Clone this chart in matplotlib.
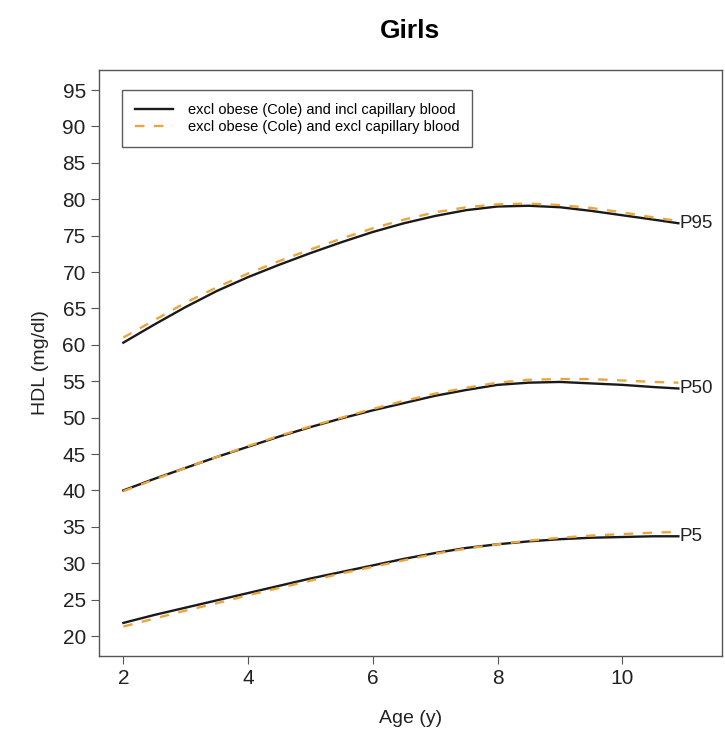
import numpy as np
import matplotlib
matplotlib.use("Agg")
import matplotlib.pyplot as plt

plt.rcParams["font.family"] = ["Liberation Sans", "DejaVu Sans"]

age = [2, 2.5, 3, 3.5, 4, 4.5, 5, 5.5, 6, 6.5, 7, 7.5, 8, 8.5, 9, 9.5, 10, 10.5, 10.9]

# incl capillary blood (solid)
p95_incl = [60.3, 62.8, 65.2, 67.4, 69.3, 71.0, 72.6, 74.1, 75.5, 76.7, 77.7, 78.5, 79.0, 79.1, 78.9, 78.4, 77.8, 77.2, 76.7]
p50_incl = [40.0, 41.6, 43.1, 44.6, 46.0, 47.4, 48.7, 49.9, 51.0, 52.0, 53.0, 53.8, 54.5, 54.8, 54.9, 54.7, 54.5, 54.2, 54.0]
p5_incl = [21.8, 22.9, 23.9, 24.9, 25.9, 26.9, 27.9, 28.8, 29.7, 30.6, 31.4, 32.1, 32.6, 33.0, 33.3, 33.5, 33.6, 33.7, 33.7]

# excl capillary blood (dashed)
p95_excl = [61.0, 63.4, 65.8, 67.9, 69.8, 71.5, 73.1, 74.6, 76.0, 77.2, 78.2, 78.9, 79.3, 79.4, 79.2, 78.8, 78.2, 77.5, 77.0]
p50_excl = [39.9, 41.5, 43.1, 44.6, 46.1, 47.5, 48.8, 50.0, 51.2, 52.3, 53.3, 54.1, 54.8, 55.2, 55.3, 55.3, 55.1, 54.9, 54.8]
p5_excl = [21.3, 22.4, 23.5, 24.5, 25.6, 26.6, 27.6, 28.6, 29.5, 30.4, 31.3, 32.0, 32.6, 33.1, 33.5, 33.8, 34.0, 34.2, 34.3]

pct_labels = ["P95", "P50", "P5"]

fig = plt.figure(figsize=(7.25, 7.33), dpi=100)
ax = fig.add_axes([0.1366, 0.105, 0.8593, 0.7995])

incl = [p95_incl, p50_incl, p5_incl]
excl = [p95_excl, p50_excl, p5_excl]
for i, (a, b) in enumerate(zip(incl, excl)):
    ax.plot(age, a, color="#1a1a1a", lw=1.7,
            label="excl obese (Cole) and incl capillary blood" if i == 0 else None)
    ax.plot(age, b, color="#E9A640", lw=1.7, dashes=(4, 4),
            label="excl obese (Cole) and excl capillary blood" if i == 0 else None)
    ax.text(age[-1] + 0.02, a[-1], pct_labels[i], fontsize=13.5, va="center", ha="left",
            color="#222222")

ax.set_xlim(1.61, 11.6)
ax.set_ylim(17.25, 97.75)
ax.set_xticks([2, 4, 6, 8, 10])
ax.set_yticks(np.arange(20, 100, 5))
ax.tick_params(direction="out", length=6, width=0.8, colors="#555555",
               labelcolor="#222222", labelsize=15)
for s in ax.spines.values():
    s.set_color("#555555")
    s.set_linewidth(1.0)

ax.set_xlabel("Age (y)", fontsize=14, color="#222222", labelpad=16)
ax.set_ylabel("HDL (mg/dl)", fontsize=14, color="#222222", labelpad=10)
fig.text(0.566, 0.958, "Girls", fontsize=19, fontweight="bold", ha="center", va="center")

leg = ax.legend(loc="upper left", bbox_to_anchor=(0.037, 0.966), borderaxespad=0,
                fontsize=10.5, frameon=True, fancybox=False, handlelength=2.6,
                borderpad=0.9, labelspacing=0.2, handletextpad=1.0)
leg.get_frame().set_edgecolor("#333333")
leg.get_frame().set_linewidth(1.0)

fig.savefig("out.png", dpi=100)
